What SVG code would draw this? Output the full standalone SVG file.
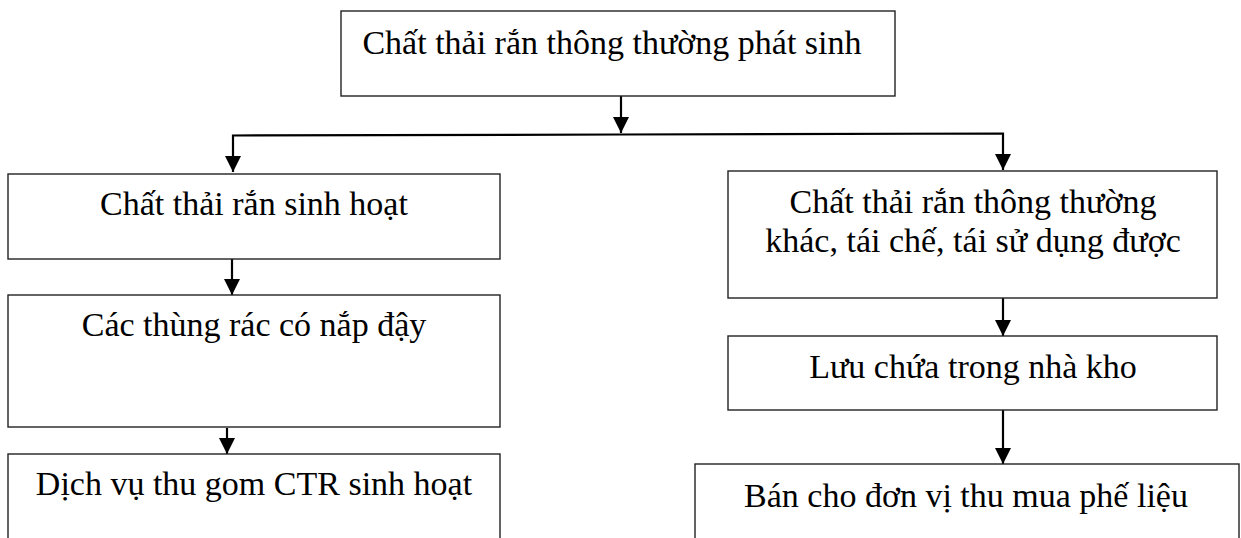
<svg xmlns="http://www.w3.org/2000/svg" width="1241" height="538" viewBox="0 0 1241 538">
<style>
.box{fill:#fff;stroke:#222;stroke-width:1.4}
.t{font-family:"Liberation Serif","Times New Roman",serif;font-size:34px;fill:#000;text-anchor:middle}
.c{fill:none;stroke:#000;stroke-width:2.2}
</style>
<defs>
<marker id="ah" markerUnits="userSpaceOnUse" markerWidth="16" markerHeight="16" refX="15" refY="7.5" orient="auto" viewBox="0 0 15 15">
<path d="M0,0 L15,7.5 L0,15 z" fill="#000"/>
</marker>
</defs>
<rect width="1241" height="538" fill="#fff"/>
<g id="connectors">
<line class="c" x1="621" y1="96" x2="621" y2="133" marker-end="url(#ah)"/>
<path class="c" d="M621,134.5 L233,135.5 L233,172" marker-end="url(#ah)"/>
<path class="c" d="M621,134.5 L1003,133.5 L1003,170" marker-end="url(#ah)"/>
<line class="c" x1="232" y1="259" x2="232" y2="295" marker-end="url(#ah)"/>
<line class="c" x1="227" y1="428" x2="227" y2="454" marker-end="url(#ah)"/>
<line class="c" x1="1003" y1="298" x2="1003" y2="336" marker-end="url(#ah)"/>
<line class="c" x1="1003" y1="410" x2="1003" y2="464" marker-end="url(#ah)"/>
</g>
<g id="n-top">
<rect class="box" x="341" y="11" width="554" height="85"/>
<text class="t" x="612" y="54">Chất thải rắn thông thường phát sinh</text>
</g>
<g id="n-l1">
<rect class="box" x="8" y="174" width="492" height="85"/>
<text class="t" x="254" y="215">Chất thải rắn sinh hoạt</text>
</g>
<g id="n-l2">
<rect class="box" x="8" y="295" width="492" height="132"/>
<text class="t" x="254" y="336">Các thùng rác có nắp đậy</text>
</g>
<g id="n-l3">
<rect class="box" x="8" y="454" width="492" height="100"/>
<text class="t" x="254" y="495">Dịch vụ thu gom CTR sinh hoạt</text>
</g>
<g id="n-r1">
<rect class="box" x="728" y="171" width="489" height="127"/>
<text class="t" x="973" y="213">Chất thải rắn thông thường</text>
<text class="t" x="973" y="252">khác, tái chế, tái sử dụng được</text>
</g>
<g id="n-r2">
<rect class="box" x="728" y="336" width="489" height="74"/>
<text class="t" x="973" y="378">Lưu chứa trong nhà kho</text>
</g>
<g id="n-r3">
<rect class="box" x="695" y="464" width="544" height="100"/>
<text class="t" x="966" y="507">Bán cho đơn vị thu mua phế liệu</text>
</g>
</svg>
